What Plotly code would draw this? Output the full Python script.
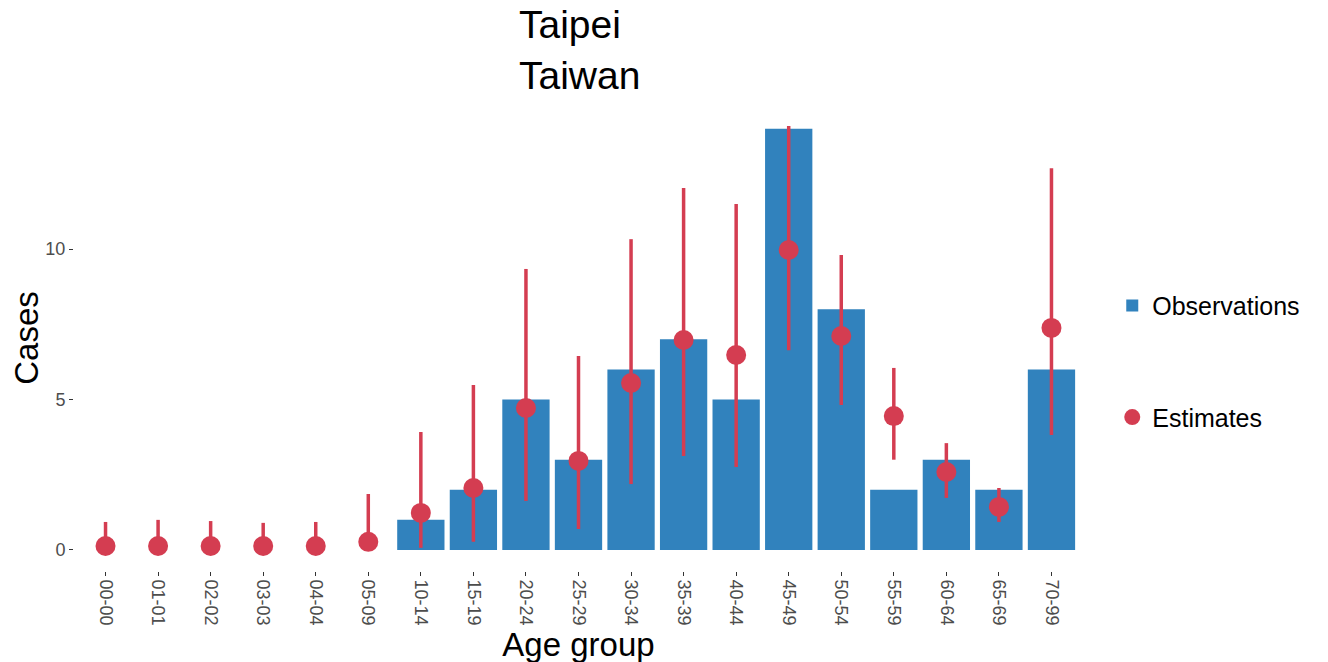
import plotly.graph_objects as go

categories = ["00-00", "01-01", "02-02", "03-03", "04-04", "05-09", "10-14", "15-19",
              "20-24", "25-29", "30-34", "35-39", "40-44", "45-49", "50-54", "55-59",
              "60-64", "65-69", "70-99"]
observations = [None, None, None, None, None, None, 1, 2, 5, 3, 6, 7, 5, 14, 8, 2, 3, 2, 6]
est_mid = [0.13, 0.13, 0.13, 0.13, 0.13, 0.27, 1.23, 2.06, 4.72, 2.96, 5.55, 6.98, 6.48,
           9.97, 7.11, 4.45, 2.59, 1.43, 7.38]
est_low = [0.0, 0.0, 0.0, 0.0, 0.0, 0.0, 0.07, 0.27, 1.63, 0.70, 2.19, 3.12, 2.76,
           6.64, 4.82, 3.00, 1.73, 0.93, 3.82]
est_high = [0.93, 1.00, 0.96, 0.90, 0.93, 1.86, 3.92, 5.48, 9.34, 6.45, 10.33, 12.03, 11.50,
            14.09, 9.80, 6.05, 3.55, 2.06, 12.69]

BLUE = "#3182bd"
RED = "#d43d51"
FONT = "Liberation Sans"

xs = list(range(len(categories)))

fig = go.Figure()
fig.add_trace(go.Bar(
    x=xs, y=observations, name="Observations", width=0.9,
    marker=dict(color=BLUE, line=dict(width=0)),
    legendgroup="obs",
))
fig.add_trace(go.Scatter(
    x=xs, y=est_mid, name="Estimates", mode="markers",
    marker=dict(color=RED, size=20),
    error_y=dict(type="data", symmetric=False,
                 array=[h - m for h, m in zip(est_high, est_mid)],
                 arrayminus=[m - l for m, l in zip(est_mid, est_low)],
                 color=RED, thickness=3.5, width=0),
    legendgroup="est",
))

fig.update_layout(
    width=1328, height=662,
    paper_bgcolor="white", plot_bgcolor="white",
    margin=dict(l=66, r=253, t=97, b=99),
    font=dict(family=FONT, color="black"),
    title=dict(text="Taipei<br>Taiwan", x=0.441, xref="paper", xanchor="left",
               y=1 - 30 / 662, yref="container", yanchor="top",
               font=dict(size=39, family=FONT, color="black")),
    showlegend=True,
    legend=dict(x=1.029, xanchor="left", y=0.45, yanchor="middle",
                font=dict(size=25, family=FONT, color="black"),
                tracegroupgap=76, bgcolor="rgba(0,0,0,0)"),
    bargap=0.1,
)
fig.update_xaxes(
    range=[-0.6, 18.6], tickmode="array", tickvals=xs, ticktext=categories,
    tickangle=90, ticks="outside", ticklen=4, tickcolor="#333333", tickwidth=1,
    tickfont=dict(size=18, color="#4d4d4d", family=FONT),
    showgrid=False, zeroline=False, showline=False, automargin=False,
    title=dict(text="Age group", font=dict(size=33, family=FONT, color="black"), standoff=0),
)
fig.update_yaxes(
    range=[-0.7, 14.79], tickvals=[0, 5, 10], ticks="outside", ticklen=4,
    tickcolor="#333333", tickwidth=1,
    tickfont=dict(size=18, color="#4d4d4d", family=FONT),
    showgrid=False, zeroline=False, showline=False, automargin=False,
    title=dict(text="Cases", font=dict(size=33, family=FONT, color="black"), standoff=11),
)

fig.write_html("out.html")
